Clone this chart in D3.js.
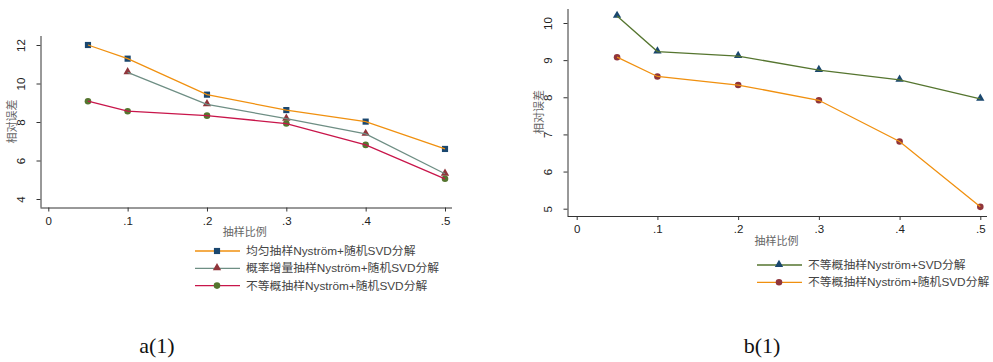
<!DOCTYPE html>
<html>
<head>
<meta charset="utf-8">
<script src="https://cdn.jsdelivr.net/npm/d3@7"></script>
<style>
  body { margin: 0; background: #fff; }
  svg text { font-family: "Liberation Sans", Arial, "Noto Sans CJK SC", sans-serif; }
  svg text.caption { font-family: "Liberation Serif", "Times New Roman", serif; }
</style>
</head>
<body>
<svg id="chart" width="993" height="362"></svg>
<script>
// sampling ratio (x) shared by both panels
var ratios = [0.05, 0.1, 0.2, 0.3, 0.4, 0.5];
var xTicks = [0, 0.1, 0.2, 0.3, 0.4, 0.5];
var xTickLabels = ["0", ".1", ".2", ".3", ".4", ".5"];

// panel a(1)
var uniformRandSvd = [12.0, 11.29, 9.42, 8.62, 8.02, 6.6];
var incrementalRandSvd = [null, 10.58, 8.92, 8.17, 7.38, 5.31];
var unequalRandSvd = [9.08, 8.56, 8.33, 7.92, 6.81, 5.05];
var aTicks = [4, 6, 8, 10, 12];

// panel b(1)
var unequalSvd = [10.19, 9.23, 9.11, 8.73, 8.47, 7.96];
var bTicks = [5, 6, 7, 8, 9, 10];

var navy = "#1a476f", maroon = "#90353b", green = "#55752f",
    orange = "#f0900f", teal = "#6e8e84", cranberry = "#c8154a";

var svg = d3.select("#chart");

function drawPanel(p) {
  var g = svg.append("g");
  var x = d3.scaleLinear().domain([0, 0.5]).range(p.xRange);
  var y = d3.scaleLinear().domain(p.yDomain).range(p.yRange);

  // axes, stata style: ticks outward, rotated y labels
  var xAxis = d3.axisBottom(x).tickValues(xTicks)
      .tickFormat(function(d, i) { return xTickLabels[i]; })
      .tickSize(4).tickSizeOuter(0);
  var yAxis = d3.axisLeft(y).tickValues(p.yTicks).tickFormat(d3.format("d"))
      .tickSize(4).tickSizeOuter(0);

  var gx = g.append("g").attr("transform", "translate(0," + p.axisY + ")").call(xAxis);
  var gy = g.append("g").attr("transform", "translate(" + p.axisX + ",0)").call(yAxis);
  gx.select(".domain").attr("d", "M" + p.axisX + ",0.5H" + p.xEnd).attr("stroke", "#333");
  gy.select(".domain").attr("d", "M0.5," + p.yTop + "V" + p.axisY).attr("stroke", "#333");
  gx.selectAll(".tick line").attr("stroke", "#333");
  gy.selectAll(".tick line").attr("stroke", "#333");
  gx.selectAll(".tick text").attr("y", 9).attr("font-size", 11.5).attr("fill", "#222");
  gy.selectAll(".tick text")
    .attr("x", null)
    .attr("text-anchor", "middle")
    .attr("transform", "translate(-20,0) rotate(-90)")
    .attr("dy", "0.35em")
    .attr("font-size", 11.5).attr("fill", "#222");

  // axis titles
  g.append("text")
    .attr("transform", "translate(" + (p.axisX - 28) + "," + p.yTitleY + ") rotate(-90)")
    .attr("text-anchor", "middle").attr("dy", "0.35em")
    .attr("font-size", 11).attr("fill", "#666").text("相对误差");
  g.append("text")
    .attr("x", x(0.25) - 2).attr("y", p.axisY + 25)
    .attr("text-anchor", "middle").attr("dy", "0.35em")
    .attr("font-size", 11).attr("fill", "#666").text("抽样比例");

  var line = d3.line()
    .defined(function(d) { return d != null; })
    .x(function(d, i) { return x(ratios[i]); })
    .y(function(d) { return y(d); });

  p.series.forEach(function(s, si) {
    var pts = s.values.map(function(v, i) { return { x: ratios[i], v: v }; })
      .filter(function(d) { return d.v != null; });
    var m = g.append("g");
    drawMarkers(m, pts, s, x, y);
    g.append("path").datum(s.values)
      .attr("fill", "none").attr("stroke", s.lineColor).attr("stroke-width", 1.3)
      .attr("d", line);

    // legend row
    var ly = p.legendY + si * p.legendStep;
    var lg = svg.append("g");
    lg.append("line")
      .attr("x1", p.legendX).attr("x2", p.legendX + 45)
      .attr("y1", ly).attr("y2", ly)
      .attr("stroke", s.lineColor).attr("stroke-width", 1.3);
    drawMarkers(lg, [{ lx: p.legendX + 22, ly: ly }], s, null, null);
    lg.append("text")
      .attr("x", p.legendX + 51).attr("y", ly).attr("dy", "0.35em")
      .attr("font-size", 11.8).attr("fill", "#444").text(s.name);
  });

  svg.append("text")
    .attr("class", "caption")
    .attr("x", p.captionX).attr("y", 353)
    .attr("text-anchor", "middle")
    .attr("font-size", 22).attr("fill", "#111").text(p.caption);
}

function drawMarkers(sel, pts, s, x, y) {
  var px = function(d) { return x ? x(d.x) : d.lx; };
  var py = function(d) { return y ? y(d.v) : d.ly; };
  var sym = s.shape === "square" ? d3.symbolSquare
          : s.shape === "triangle" ? d3.symbolTriangle : d3.symbolCircle;
  var size = s.shape === "square" ? 38 : s.shape === "triangle" ? 30 : 34;
  sel.selectAll("path.mk").data(pts).enter().append("path")
    .attr("class", "mk")
    .attr("d", d3.symbol().type(sym).size(size))
    .attr("transform", function(d) {
      return "translate(" + px(d) + "," + (py(d) + (s.shape === "triangle" ? -0.5 : 0)) + ")";
    })
    .attr("fill", s.markerColor);
}

drawPanel({
  xRange: [48.3, 445], yDomain: [4, 12], yRange: [199, 45],
  axisX: 40.5, axisY: 207.5, xEnd: 452, yTop: 36, yTicks: aTicks,
  yTitleY: 121.5,
  legendX: 195, legendY: 251, legendStep: 17.3,
  caption: "a(1)", captionX: 157,
  series: [
    { name: "均匀抽样Nyström+随机SVD分解", values: uniformRandSvd, lineColor: orange, markerColor: navy, shape: "square" },
    { name: "概率增量抽样Nyström+随机SVD分解", values: incrementalRandSvd, lineColor: teal, markerColor: maroon, shape: "triangle" },
    { name: "不等概抽样Nyström+随机SVD分解", values: unequalRandSvd, lineColor: cranberry, markerColor: green, shape: "circle" }
  ]
});

drawPanel({
  xRange: [576.7, 980.3], yDomain: [5, 10], yRange: [208.7, 23],
  axisX: 567.5, axisY: 216, xEnd: 987, yTop: 9, yTicks: bTicks,
  yTitleY: 112,
  legendX: 757, legendY: 265, legendStep: 17.3,
  caption: "b(1)", captionX: 762,
  series: [
    { name: "不等概抽样Nyström+SVD分解", values: unequalSvd, lineColor: green, markerColor: navy, shape: "triangle" },
    { name: "不等概抽样Nyström+随机SVD分解", values: unequalRandSvd, lineColor: orange, markerColor: maroon, shape: "circle" }
  ]
});
</script>
</body>
</html>
